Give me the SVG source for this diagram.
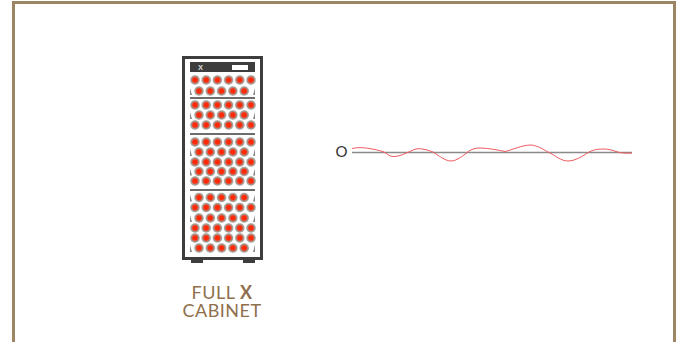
<svg xmlns="http://www.w3.org/2000/svg" width="680" height="342" viewBox="0 0 680 342">
<style>
.lab{font-family:"Lato","Liberation Sans",sans-serif;font-size:18px;letter-spacing:.5px;fill:#8f6f4c;text-anchor:middle}
.div{stroke:#3d3d3d;stroke-width:1.500}
.sl{fill:#888}
</style>
<defs>
<radialGradient id="g"><stop offset="0.42" stop-color="#ff2a08"/><stop offset="0.7" stop-color="#b08a80"/><stop offset="0.85" stop-color="#a8a8a4"/><stop offset="1" stop-color="#d4d4d2"/></radialGradient>
<circle id="c" r="5" fill="url(#g)"/>
<g id="full"><use href="#c" x="195"/><use href="#c" x="206.200"/><use href="#c" x="217.400"/><use href="#c" x="228.600"/><use href="#c" x="239.800"/><use href="#c" x="251"/></g>
<g id="off"><use href="#c" x="199"/><use href="#c" x="210.300"/><use href="#c" x="221.600"/><use href="#c" x="232.900"/><use href="#c" x="244.200"/><path class="sl" d="M190 4V-3L192 4Z"/><path class="sl" d="M255 4V-3L253 4Z"/></g>
</defs>
<rect width="680" height="342" fill="#fff"/>
<path d="M13.500 342V2.500H674.500V342" fill="none" stroke="#9c8563" stroke-width="3"/>
<g id="cabinet">
<rect x="183.500" y="57.500" width="78" height="201" fill="#fff" stroke="#3d3d3d" stroke-width="3"/>
<rect x="191" y="259" width="12" height="4" fill="#3d3d3d"/>
<rect x="243" y="259" width="12" height="4" fill="#3d3d3d"/>
<rect x="190" y="62" width="65" height="10" fill="#3d3d3d"/>
<rect x="232" y="65" width="16" height="5" fill="#fff"/>
<text x="200.500" y="70" font-family="Liberation Sans,sans-serif" font-size="7.500" font-weight="700" fill="#ddd" text-anchor="middle">X</text>
<line class="div" x1="190" y1="98" x2="255" y2="98"/>
<line class="div" x1="190" y1="134" x2="255" y2="134"/>
<line class="div" x1="190" y1="190" x2="255" y2="190"/>
<use href="#full" y="80"/><use href="#off" y="91"/>
<use href="#full" y="105"/><use href="#off" y="115"/><use href="#full" y="125"/>
<use href="#full" y="142"/><use href="#off" y="152"/><use href="#full" y="162"/><use href="#off" y="171.500"/><use href="#full" y="181"/>
<use href="#off" y="197.500"/><use href="#full" y="207.500"/><use href="#off" y="218"/><use href="#full" y="228"/><use href="#full" y="238"/><use href="#off" y="248"/>
</g>
<g id="chart">
<text x="341.500" y="157" font-family="Lato,Liberation Sans,sans-serif" font-size="15" fill="#333" text-anchor="middle">O</text>
</g>
<g id="connectors">
<line x1="352" y1="152.500" x2="632" y2="152.500" stroke="#8a8a8a" stroke-width="1.300"/>
<path d="M352 148.500C358 147 365 147.500 372 149C378 150 382 151 386 153C389 156 391 156.500 394 156.500C400 156.500 406 153 411 151C414 149.500 416 148.700 419 148.700C424 149 428 150 433 152C438 155 445 161 451 161C457 161 464 155 469 151C473 148.500 477 147.800 481 148C490 148.500 498 150 505 151.500C512 150 522 145 531 145C538 145.500 544 150 550 153C556 156 561 161 568 161C576 161 584 155 590 151.500C594 149.500 599 149 603 149C608 149 612 150 616 151.500C620 153 626 153.500 632 153" fill="none" stroke="#ef5a5f" stroke-width="1"/>
</g>
<g id="label">
<text class="lab" x="222" y="298.500">FULL <tspan font-weight="700">X</tspan></text>
<text class="lab" x="222" y="316.500">CABINET</text>
</g>
</svg>
